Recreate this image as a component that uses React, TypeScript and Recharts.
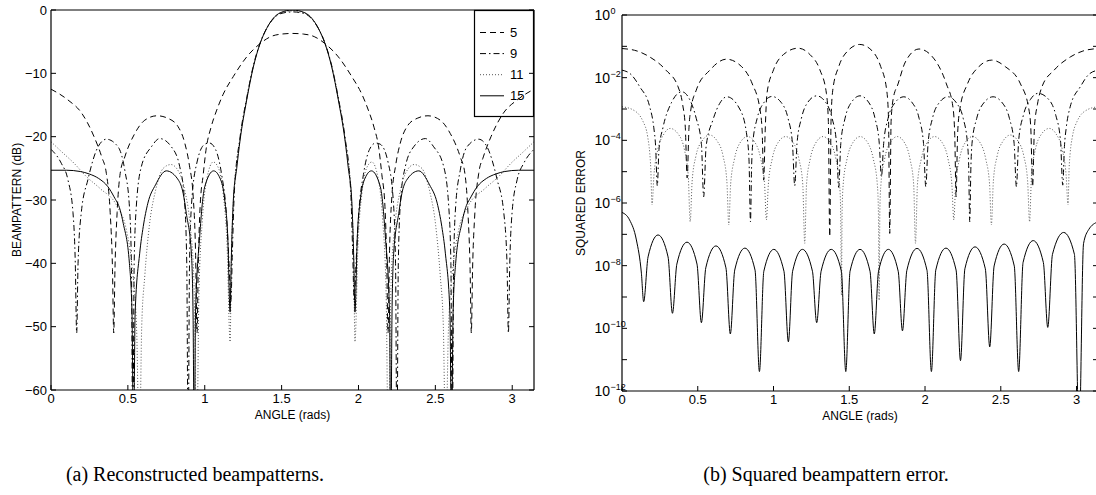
import React from 'react';
import { LineChart, Line, XAxis, YAxis, Legend } from 'recharts';

const SANS = '"Liberation Sans", Arial, Helvetica, sans-serif';
const SERIF = '"Liberation Serif", "Times New Roman", serif';

const angleTicks = [0, 0.5, 1, 1.5, 2, 2.5, 3];
const dbTicks = [-60, -50, -40, -30, -20, -10, 0];
const errTicks = [1, 1e-1, 1e-2, 1e-3, 1e-4, 1e-5, 1e-6, 1e-7, 1e-8, 1e-9, 1e-10, 1e-11, 1e-12];
const seriesNames = ['5', '9', '11', '15'];

// (a) reconstructed beampatterns: [angle rad, dB]
const beam5: [number, number][] = [
  [0, -12.5], [0.11, -14.2], [0.2, -16.3], [0.28, -20], [0.33, -23.2], [0.36, -25.8], [0.385, -32], [0.4, -41],
  [0.408, -51], [0.416, -41], [0.43, -32], [0.45, -25.8], [0.48, -23.2], [0.545, -19.5], [0.61, -17.4], [0.69, -16.7],
  [0.76, -17.1], [0.826, -18.4], [0.87, -21], [0.9, -24.5], [0.925, -29.5], [0.94, -38], [0.95, -51], [0.958, -40],
  [0.97, -31], [0.99, -26], [1.01, -21.8], [1.04, -18.6], [1.078, -15.8], [1.12, -13.3], [1.186, -10.5], [1.273, -7.4],
  [1.36, -5.3], [1.43, -4.2], [1.5, -3.8], [1.571, -3.7], [1.642, -3.8], [1.712, -4.2], [1.782, -5.3], [1.869, -7.4],
  [1.956, -10.5], [2.022, -13.3], [2.064, -15.8], [2.102, -18.6], [2.132, -21.8], [2.152, -26], [2.172, -31], [2.184, -40],
  [2.192, -51], [2.202, -38], [2.217, -29.5], [2.242, -24.5], [2.272, -21], [2.316, -18.4], [2.382, -17.1], [2.452, -16.7],
  [2.532, -17.4], [2.597, -19.5], [2.662, -23.2], [2.692, -25.8], [2.712, -32], [2.726, -41], [2.734, -51], [2.742, -41],
  [2.757, -32], [2.782, -25.8], [2.812, -23.2], [2.862, -20], [2.942, -16.3], [3.032, -14.2], [3.1416, -12.5],
];

const beam9: [number, number][] = [
  [0, -22], [0.067, -24.2], [0.11, -26.8], [0.143, -32], [0.158, -40], [0.167, -51], [0.176, -40], [0.197, -32],
  [0.24, -26.8], [0.306, -21.6], [0.36, -20.4], [0.436, -21.6], [0.48, -25.3], [0.51, -31], [0.523, -40], [0.532, -70],
  [0.541, -40], [0.555, -31], [0.588, -24.7], [0.653, -21.6], [0.707, -20.3], [0.783, -21.6], [0.837, -24.7], [0.868, -30],
  [0.883, -40], [0.892, -70], [0.901, -40], [0.916, -30], [0.95, -24], [1.0, -21.2], [1.03, -21], [1.07, -22],
  [1.11, -26], [1.14, -32], [1.158, -40], [1.17, -46], [1.18, -38], [1.192, -29], [1.23, -20], [1.273, -13.9],
  [1.316, -8.8], [1.36, -5.2], [1.403, -2.9], [1.446, -1.4], [1.49, -0.6], [1.571, -0.3], [1.652, -0.6], [1.696, -1.4],
  [1.739, -2.9], [1.782, -5.2], [1.826, -8.8], [1.869, -13.9], [1.912, -20], [1.95, -29], [1.962, -38], [1.972, -46],
  [1.984, -40], [2.002, -32], [2.032, -26], [2.072, -22], [2.112, -21], [2.142, -21.2], [2.192, -24], [2.226, -30],
  [2.241, -40], [2.25, -70], [2.259, -40], [2.274, -30], [2.305, -24.7], [2.359, -21.6], [2.435, -20.3], [2.489, -21.6],
  [2.554, -24.7], [2.587, -31], [2.601, -40], [2.61, -70], [2.619, -40], [2.632, -31], [2.662, -25.3], [2.706, -21.6],
  [2.782, -20.4], [2.836, -21.6], [2.902, -26.8], [2.945, -32], [2.966, -40], [2.975, -51], [2.984, -40], [2.999, -32],
  [3.032, -26.8], [3.075, -24.2], [3.1416, -22],
];

const beam11: [number, number][] = [
  [0, -20.8], [0.07, -22.4], [0.15, -24.2], [0.23, -26.3], [0.32, -28.2], [0.43, -31], [0.49, -34.7], [0.525, -40],
  [0.557, -50.5], [0.575, -70], [0.59, -50], [0.61, -42], [0.64, -34], [0.68, -28.5], [0.73, -25], [0.78, -24.4],
  [0.83, -25.5], [0.87, -28.5], [0.905, -34], [0.93, -43], [0.948, -70], [0.962, -45], [0.985, -33], [1.015, -26.5],
  [1.055, -24], [1.09, -25], [1.12, -29], [1.145, -37], [1.165, -52.4], [1.173, -40], [1.186, -30.5], [1.23, -20.3],
  [1.273, -14], [1.316, -8.9], [1.36, -5.3], [1.403, -2.9], [1.446, -1.35], [1.49, -0.5], [1.571, -0.15], [1.652, -0.5],
  [1.696, -1.35], [1.739, -2.9], [1.782, -5.3], [1.826, -8.9], [1.869, -14], [1.912, -20.3], [1.956, -30.5], [1.969, -40],
  [1.977, -52.4], [1.997, -37], [2.022, -29], [2.052, -25], [2.087, -24], [2.127, -26.5], [2.157, -33], [2.18, -45],
  [2.194, -70], [2.212, -43], [2.237, -34], [2.272, -28.5], [2.312, -25.5], [2.362, -24.4], [2.412, -25], [2.462, -28.5],
  [2.502, -34], [2.532, -42], [2.552, -50], [2.567, -70], [2.585, -50.5], [2.617, -40], [2.652, -34.7], [2.712, -31],
  [2.822, -28.2], [2.912, -26.3], [2.992, -24.2], [3.072, -22.4], [3.1416, -20.8],
];

const beam15: [number, number][] = [
  [0, -25.3], [0.1, -25.3], [0.19, -25.5], [0.25, -25.9], [0.31, -26.6], [0.37, -27.9], [0.41, -29.5], [0.45, -31.6],
  [0.47, -33.7], [0.51, -40], [0.527, -48], [0.537, -70], [0.547, -48], [0.577, -38.4], [0.6, -34.2], [0.63, -30.5],
  [0.68, -27.6], [0.75, -25.4], [0.83, -26.9], [0.86, -29], [0.88, -32.1], [0.913, -38.4], [0.924, -48], [0.932, -70],
  [0.94, -48], [0.967, -35.8], [1.0, -27.9], [1.058, -25.4], [1.1, -26.6], [1.13, -30], [1.15, -36], [1.165, -47.7],
  [1.172, -40], [1.186, -30], [1.208, -25], [1.23, -20.5], [1.273, -14.2], [1.316, -9], [1.36, -5.3], [1.403, -2.9],
  [1.446, -1.3], [1.49, -0.45], [1.571, 0], [1.652, -0.45], [1.696, -1.3], [1.739, -2.9], [1.782, -5.3], [1.826, -9],
  [1.869, -14.2], [1.912, -20.5], [1.934, -25], [1.956, -30], [1.97, -40], [1.977, -47.7], [1.992, -36], [2.012, -30],
  [2.042, -26.6], [2.084, -25.4], [2.142, -27.9], [2.175, -35.8], [2.202, -48], [2.21, -70], [2.218, -48], [2.229, -38.4],
  [2.262, -32.1], [2.282, -29], [2.312, -26.9], [2.392, -25.4], [2.462, -27.6], [2.512, -30.5], [2.542, -34.2], [2.565, -38.4],
  [2.595, -48], [2.605, -70], [2.615, -48], [2.632, -40], [2.672, -33.7], [2.692, -31.6], [2.732, -29.5], [2.772, -27.9],
  [2.832, -26.6], [2.892, -25.9], [2.952, -25.5], [3.042, -25.3], [3.1416, -25.3],
];

// (b) squared error: [angle rad, log10 of error]
const err5: [number, number][] = [
  [0, -1.07], [0.1, -1.15], [0.18, -1.33], [0.29, -1.76], [0.37, -2.29], [0.4, -2.85], [0.418, -3.6], [0.43, -5.2],
  [0.442, -3.6], [0.455, -3.0], [0.49, -2.4], [0.58, -1.76], [0.689, -1.41], [0.79, -1.65], [0.86, -2.2], [0.91, -3.0],
  [0.925, -3.7], [0.935, -5.27], [0.945, -3.7], [0.957, -2.5], [1.0, -1.75], [1.066, -1.26], [1.162, -1.06], [1.24, -1.26],
  [1.306, -1.75], [1.349, -2.5], [1.362, -3.4], [1.371, -7.07], [1.38, -3.3], [1.391, -2.4], [1.431, -1.64], [1.491, -1.14],
  [1.569, -0.94], [1.65, -1.14], [1.707, -1.64], [1.747, -2.4], [1.759, -3.3], [1.767, -6.97], [1.776, -3.4], [1.789, -2.7],
  [1.822, -2.2], [1.87, -1.5], [1.96, -1.085], [2.06, -1.4], [2.141, -2.2], [2.183, -2.9], [2.196, -3.8], [2.205, -5.8],
  [2.215, -3.8], [2.23, -3.0], [2.28, -2.2], [2.355, -1.65], [2.44, -1.44], [2.53, -1.65], [2.63, -2.2], [2.685, -3.0],
  [2.698, -3.6], [2.71, -5.48], [2.722, -3.6], [2.742, -2.85], [2.772, -2.29], [2.852, -1.76], [2.962, -1.33], [3.042, -1.15],
  [3.1416, -1.07],
];

const err9: [number, number][] = [
  [0, -1.76], [0.06, -1.9], [0.117, -2.29], [0.183, -2.93], [0.21, -3.6], [0.222, -4.2], [0.233, -5.45], [0.244, -4.3],
  [0.27, -3.6], [0.326, -2.8], [0.395, -2.45], [0.447, -2.7], [0.49, -3.3], [0.524, -4.1], [0.539, -5.8], [0.555, -4.2],
  [0.6, -3.35], [0.645, -2.82], [0.692, -2.61], [0.777, -3.0], [0.821, -3.75], [0.838, -4.6], [0.848, -6.6], [0.855, -4.9],
  [0.863, -4.1], [0.892, -3.3], [0.936, -2.8], [0.99, -2.6], [1.052, -2.8], [1.096, -3.3], [1.125, -4.1], [1.14, -5.45],
  [1.155, -4.1], [1.184, -3.3], [1.227, -2.78], [1.285, -2.58], [1.343, -2.78], [1.387, -3.3], [1.416, -4.1], [1.43, -5.5],
  [1.444, -4.1], [1.472, -3.3], [1.515, -2.78], [1.571, -2.58], [1.627, -2.78], [1.67, -3.3], [1.698, -4.1], [1.712, -5.16],
  [1.727, -4.1], [1.756, -3.3], [1.8, -2.81], [1.86, -2.61], [1.917, -2.81], [1.961, -3.3], [1.99, -4.1], [2.005, -5.48],
  [2.02, -4.1], [2.049, -3.3], [2.092, -2.81], [2.152, -2.61], [2.208, -2.81], [2.252, -3.3], [2.28, -4.1], [2.288, -4.8],
  [2.295, -6.6], [2.303, -4.8], [2.31, -4.1], [2.341, -3.3], [2.387, -2.81], [2.449, -2.61], [2.511, -2.81], [2.557, -3.3],
  [2.588, -4.1], [2.603, -5.48], [2.618, -4.0], [2.649, -3.2], [2.695, -2.7], [2.746, -2.5], [2.817, -2.7], [2.863, -3.2],
  [2.894, -4.0], [2.909, -5.43], [2.92, -4.2], [2.932, -3.6], [2.958, -2.93], [3.025, -2.29], [3.08, -1.9], [3.1416, -1.76],
];

const err11: [number, number][] = [
  [0, -2.93], [0.07, -3.02], [0.139, -3.4], [0.17, -3.9], [0.183, -4.4], [0.19, -4.9], [0.198, -6.06], [0.211, -5.1],
  [0.236, -4.3], [0.274, -3.82], [0.318, -3.62], [0.374, -3.82], [0.412, -4.3], [0.437, -5.1], [0.45, -6.6], [0.463, -5.3],
  [0.488, -4.5], [0.527, -4.03], [0.578, -3.83], [0.629, -4.03], [0.667, -4.5], [0.692, -5.3], [0.705, -6.7], [0.717, -5.4],
  [0.742, -4.6], [0.779, -4.08], [0.829, -3.88], [0.879, -4.08], [0.916, -4.6], [0.941, -5.4], [0.953, -6.54], [0.966, -5.4],
  [0.991, -4.6], [1.029, -4.08], [1.08, -3.88], [1.131, -4.08], [1.168, -4.6], [1.193, -5.4], [1.206, -7.29], [1.218, -5.4],
  [1.242, -4.6], [1.279, -4.08], [1.327, -3.88], [1.375, -4.08], [1.412, -4.6], [1.436, -5.4], [1.443, -6.2], [1.448, -8.94],
  [1.453, -6.2], [1.46, -5.4], [1.485, -4.6], [1.523, -4.08], [1.572, -3.88], [1.622, -4.08], [1.659, -4.6], [1.685, -5.4],
  [1.692, -6.2], [1.697, -9.1], [1.702, -6.2], [1.709, -5.4], [1.733, -4.6], [1.769, -4.08], [1.817, -3.88], [1.865, -4.08],
  [1.901, -4.6], [1.925, -5.4], [1.937, -7.29], [1.95, -5.4], [1.975, -4.6], [2.013, -4.08], [2.063, -3.88], [2.114, -4.08],
  [2.152, -4.6], [2.177, -5.4], [2.19, -6.54], [2.202, -5.4], [2.227, -4.6], [2.264, -4.08], [2.314, -3.88], [2.364, -4.08],
  [2.401, -4.6], [2.426, -5.4], [2.438, -6.7], [2.451, -5.3], [2.476, -4.5], [2.514, -4.03], [2.564, -3.83], [2.614, -4.03],
  [2.652, -4.5], [2.677, -5.3], [2.69, -6.6], [2.703, -5.1], [2.728, -4.3], [2.766, -3.82], [2.82, -3.62], [2.868, -3.82],
  [2.906, -4.3], [2.931, -5.1], [2.944, -6.06], [2.951, -4.9], [2.958, -4.4], [2.972, -3.9], [3.003, -3.4], [3.072, -3.02],
  [3.1416, -2.93],
];

const err15: [number, number][] = [
  [0, -6.3], [0.05, -6.54], [0.095, -7.18], [0.128, -8.24], [0.143, -9.15], [0.172, -7.72], [0.238, -7.02], [0.304, -7.72],
  [0.333, -9.52], [0.362, -7.95], [0.429, -7.25], [0.495, -7.95], [0.524, -9.82], [0.553, -8.07], [0.62, -7.37], [0.686, -8.07],
  [0.715, -10.18], [0.744, -8.14], [0.811, -7.44], [0.878, -8.14], [0.907, -11.38], [0.936, -8.18], [1.002, -7.48], [1.069, -8.18],
  [1.098, -10.43], [1.126, -8.18], [1.191, -7.48], [1.257, -8.18], [1.285, -9.82], [1.314, -8.18], [1.381, -7.48], [1.448, -8.18],
  [1.477, -11.38], [1.505, -8.18], [1.571, -7.48], [1.637, -8.18], [1.665, -10.18], [1.693, -8.18], [1.758, -7.48], [1.823, -8.18],
  [1.851, -10.08], [1.88, -8.15], [1.947, -7.45], [2.013, -8.15], [2.042, -11.38], [2.071, -8.14], [2.138, -7.44], [2.205, -8.14],
  [2.234, -11.03], [2.263, -8.1], [2.33, -7.4], [2.398, -8.1], [2.427, -10.59], [2.456, -8.01], [2.522, -7.31], [2.589, -8.01],
  [2.618, -11.38], [2.647, -7.9], [2.714, -7.2], [2.781, -7.9], [2.81, -9.97], [2.841, -7.64], [2.915, -6.94], [2.986, -7.64],
  [3.017, -13.5], [3.046, -7.3], [3.08, -6.85], [3.1416, -6.6],
];

const seriesStyle: Record<string, { dash?: string; color: string }> = {
  '5': { dash: '6 4', color: '#000' },
  '9': { dash: '6 3 1.5 3', color: '#000' },
  '11': { dash: '1 2', color: '#555' },
  '15': { color: '#000' },
};

const toRows = (pts: [number, number][]) => pts.map(([x, y]) => ({ x, y }));
const toErrRows = (pts: [number, number][]) => pts.map(([x, e]) => ({ x, y: Math.pow(10, e) }));

const beamRows: Record<string, { x: number; y: number }[]> = {
  '5': toRows(beam5), '9': toRows(beam9), '11': toRows(beam11), '15': toRows(beam15),
};
const errRows: Record<string, { x: number; y: number }[]> = {
  '5': toErrRows(err5), '9': toErrRows(err9), '11': toErrRows(err11), '15': toErrRows(err15),
};

const minus = (v: number) => (v < 0 ? '\u2212' + Math.abs(v) : String(v));

const BottomTick = ({ x, y, payload }: any) => (
  <g>
    <line x1={x} y1={y} x2={x} y2={y - 5} stroke="#000" />
    <text x={x} y={y + 13} textAnchor="middle" fontSize={13} fontFamily={SANS} fill="#000">{payload.value}</text>
  </g>
);
const TopTick = ({ x, y }: any) => <line x1={x} y1={y} x2={x} y2={y + 5} stroke="#000" />;
const RightTick = ({ x, y }: any) => <line x1={x} y1={y} x2={x - 5} y2={y} stroke="#000" />;
const DbTick = ({ x, y, payload }: any) => (
  <g>
    <line x1={x} y1={y} x2={x + 5} y2={y} stroke="#000" />
    <text x={x - 4} y={y + 4.5} textAnchor="end" fontSize={13} fontFamily={SANS} fill="#000">{minus(payload.value)}</text>
  </g>
);
const ErrTick = ({ x, y, payload }: any) => {
  const p = Math.round(Math.log10(payload.value));
  return (
    <g>
      <line x1={x} y1={y} x2={x + 5} y2={y} stroke="#000" />
      {p % 2 === 0 && (
        <g fontFamily={SANS} fill="#000">
          <text x={x - 12} y={y + 5} textAnchor="end" fontSize={14}>10</text>
          <text x={x - 11.5} y={y - 1} textAnchor="start" fontSize={9}>{minus(p)}</text>
        </g>
      )}
    </g>
  );
};

// legend rows follow the series order, not the library's default sort by name
const LegendBox = ({ payload }: any) => {
  const entries = [...(payload || [])].sort(
    (a: any, b: any) => seriesNames.indexOf(String(a.value)) - seriesNames.indexOf(String(b.value)),
  );
  return (
    <svg width={60} height={107} style={{ display: 'block', overflow: 'visible' }}>
      <rect x={0.5} y={0.5} width={59} height={106} fill="none" stroke="#000" strokeWidth={1.2} />
      {entries.map((entry: any, i: number) => {
        const st = seriesStyle[entry.value];
        const cy = 22.5 + i * 21.1;
        return (
          <g key={entry.value}>
            <line x1={6} x2={30} y1={cy} y2={cy} stroke={st.color} strokeDasharray={st.dash} />
            <text x={36} y={cy + 4.5} fontSize={13} fontFamily={SANS} fill="#000">{entry.value}</text>
          </g>
        );
      })}
    </svg>
  );
};

const axisLine = { stroke: '#000', strokeWidth: 1.2 };
const labelStyle = { fontSize: 12, fontFamily: SANS, fill: '#000' };

function BeamChart() {
  return (
    <LineChart width={560} height={430} margin={{ top: 9, right: 25, bottom: 10, left: 6 }}>
      <XAxis type="number" dataKey="x" domain={[0, Math.PI]} ticks={angleTicks} interval={0} allowDataOverflow
        height={30} tickSize={0} tickMargin={0} tickLine={false} axisLine={axisLine} tick={BottomTick}
        label={{ value: 'ANGLE (rads)', position: 'insideBottom', offset: 1, style: labelStyle }} />
      <XAxis xAxisId="top" orientation="top" type="number" domain={[0, Math.PI]} ticks={angleTicks} interval={0}
        allowDataOverflow height={1} tickSize={0} tickMargin={0} tickLine={false} axisLine={axisLine} tick={TopTick} />
      <YAxis type="number" domain={[-60, 0]} ticks={dbTicks} interval={0} allowDataOverflow width={45}
        tickSize={0} tickMargin={0} tickLine={false} axisLine={axisLine} tick={DbTick}
        label={{ value: 'BEAMPATTERN (dB)', angle: -90, position: 'insideLeft', offset: 11, style: { ...labelStyle, textAnchor: 'middle' } }} />
      <YAxis yAxisId="right" orientation="right" type="number" domain={[-60, 0]} ticks={dbTicks} interval={0}
        allowDataOverflow width={1} tickSize={0} tickMargin={0} tickLine={false} axisLine={axisLine} tick={RightTick} />
      {seriesNames.map((n) => (
        <Line key={n} name={n} data={beamRows[n]} dataKey="y" type="monotone" stroke={seriesStyle[n].color}
          strokeDasharray={seriesStyle[n].dash} strokeWidth={1} dot={false} activeDot={false} isAnimationActive={false} />
      ))}
      <Legend layout="vertical" align="center" verticalAlign="middle" content={LegendBox}
        wrapperStyle={{ left: 474, top: 10, width: 60, height: 107 }} />
    </LineChart>
  );
}

function ErrorChart() {
  return (
    <LineChart width={560} height={430} margin={{ top: 14, right: 21, bottom: 9, left: 6 }}>
      <XAxis type="number" dataKey="x" domain={[0, Math.PI]} ticks={angleTicks} interval={0} allowDataOverflow
        height={30} tickSize={0} tickMargin={0} tickLine={false} axisLine={axisLine} tick={BottomTick}
        label={{ value: 'ANGLE (rads)', position: 'insideBottom', offset: 1, style: labelStyle }} />
      <XAxis xAxisId="top" orientation="top" type="number" domain={[0, Math.PI]} ticks={angleTicks} interval={0}
        allowDataOverflow height={1} tickSize={0} tickMargin={0} tickLine={false} axisLine={axisLine} tick={TopTick} />
      <YAxis type="number" scale="log" domain={[1e-12, 1]} ticks={errTicks} interval={0} allowDataOverflow width={56}
        tickSize={0} tickMargin={0} tickLine={false} axisLine={axisLine} tick={ErrTick}
        label={{ value: 'SQUARED ERROR', angle: -90, position: 'insideLeft', offset: 15, style: { ...labelStyle, textAnchor: 'middle' } }} />
      <YAxis yAxisId="right" orientation="right" type="number" scale="log" domain={[1e-12, 1]} ticks={errTicks} interval={0}
        allowDataOverflow width={1} tickSize={0} tickMargin={0} tickLine={false} axisLine={axisLine} tick={RightTick} />
      {seriesNames.map((n) => (
        <Line key={n} name={n} data={errRows[n]} dataKey="y" type="monotone" stroke={seriesStyle[n].color}
          strokeDasharray={seriesStyle[n].dash} strokeWidth={1} dot={false} activeDot={false} isAnimationActive={false} />
      ))}
    </LineChart>
  );
}

const captionStyle: React.CSSProperties = {
  position: 'absolute', top: 463, width: 400, textAlign: 'center', fontFamily: SERIF, fontSize: 20,
  lineHeight: '22px', color: '#000', whiteSpace: 'nowrap',
};

export default function App() {
  return (
    <div style={{ position: 'absolute', left: 0, top: 0, width: 1096, height: 495, overflow: 'hidden', background: '#fff' }}>
      <div style={{ position: 'absolute', left: 0, top: 0 }}>
        <BeamChart />
      </div>
      <div style={{ position: 'absolute', left: 560, top: 0 }}>
        <ErrorChart />
      </div>
      <div style={{ ...captionStyle, left: 195 - 200 }}>(a) Reconstructed beampatterns.</div>
      <div style={{ ...captionStyle, left: 826 - 200 }}>(b) Squared beampattern error.</div>
    </div>
  );
}
